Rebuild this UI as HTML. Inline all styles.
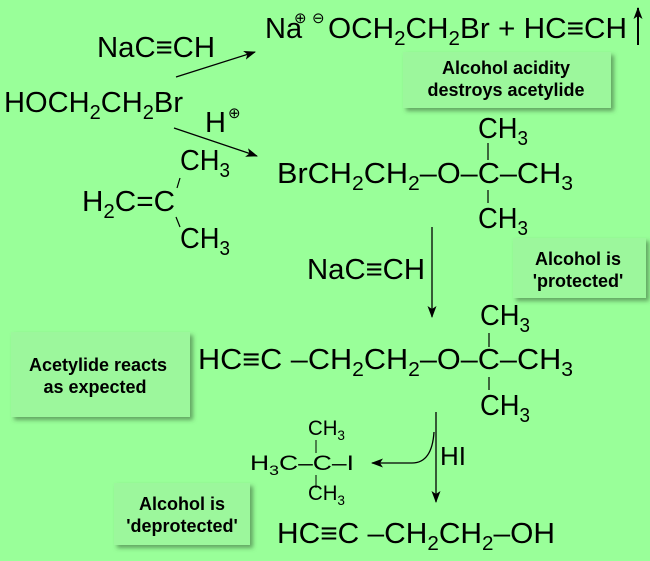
<!DOCTYPE html>
<html><head><meta charset="utf-8"><style>
html,body{margin:0;padding:0;background:#99ff99;}
svg{display:block;}
text{font-family:"Liberation Sans",sans-serif;fill:#000;}
.c{font-size:29px;}
.b{font-size:18px;font-weight:bold;text-anchor:middle;}
</style></head><body>
<svg width="650" height="561" viewBox="0 0 650 561" xmlns="http://www.w3.org/2000/svg">
<defs>
<filter id="sh" x="-10%" y="-10%" width="130%" height="130%"><feDropShadow dx="3" dy="3" stdDeviation="2" flood-color="#3a6a3a" flood-opacity="0.6"/></filter>
<marker id="ah" markerWidth="12" markerHeight="9" refX="11" refY="4.5" orient="auto" markerUnits="userSpaceOnUse"><path d="M0,0 L12,4.5 L0,9 L3,4.5 Z" fill="#000"/></marker>
</defs>
<rect width="650" height="561" fill="#99ff99"/>
<!-- boxes -->
<rect x="403" y="52" width="208" height="56" fill="#9cf79c" filter="url(#sh)"/>
<text class="b" x="506" y="74">Alcohol acidity</text>
<text class="b" x="506" y="96">destroys acetylide</text>
<rect x="513" y="238" width="133" height="60" fill="#9cf79c" filter="url(#sh)"/>
<text class="b" x="578" y="265">Alcohol is</text>
<text class="b" x="578" y="287">'protected'</text>
<rect x="11" y="332" width="179" height="85" fill="#9cf79c" filter="url(#sh)"/>
<text class="b" x="98" y="371">Acetylide reacts</text>
<text class="b" x="95" y="393">as expected</text>
<rect x="114" y="483" width="136" height="62" fill="#9cf79c" filter="url(#sh)"/>
<text class="b" x="182" y="510">Alcohol is</text>
<text class="b" x="182" y="532">'deprotected'</text>

<!-- top -->
<text class="c" x="97" y="57" textLength="118" lengthAdjust="spacingAndGlyphs">NaC≡CH</text>
<line x1="176" y1="77" x2="255" y2="52" stroke="#000" stroke-width="1.3" marker-end="url(#ah)"/>
<text class="c" x="265" y="38">Na</text>
<text x="294" y="23" font-size="15">⊕</text>
<text x="312" y="23" font-size="15">⊖</text>
<text class="c" x="328" y="38" textLength="299" lengthAdjust="spacingAndGlyphs">OCH<tspan font-size="20" dy="7">2</tspan><tspan dy="-7">CH</tspan><tspan font-size="20" dy="7">2</tspan><tspan dy="-7">Br + HC≡CH</tspan></text>
<line x1="638" y1="45" x2="638" y2="8" stroke="#000" stroke-width="2" marker-end="url(#ah)"/>

<text class="c" x="4" y="112" textLength="179" lengthAdjust="spacingAndGlyphs">HOCH<tspan font-size="20" dy="7">2</tspan><tspan dy="-7">CH</tspan><tspan font-size="20" dy="7">2</tspan><tspan dy="-7">Br</tspan></text>
<text class="c" x="205" y="132">H</text><text x="228" y="118" font-size="15">⊕</text>
<line x1="174" y1="128" x2="257" y2="156" stroke="#000" stroke-width="1.3" marker-end="url(#ah)"/>

<!-- isobutylene -->
<text class="c" x="180" y="170" textLength="50" lengthAdjust="spacingAndGlyphs">CH<tspan font-size="20" dy="7">3</tspan></text>
<text class="c" x="82" y="211" textLength="93" lengthAdjust="spacingAndGlyphs">H<tspan font-size="20" dy="7">2</tspan><tspan dy="-7">C=C</tspan></text>
<line x1="180" y1="178" x2="177" y2="188" stroke="#000" stroke-width="1.2"/>
<line x1="176" y1="217" x2="180" y2="227" stroke="#000" stroke-width="1.2"/>
<text class="c" x="180" y="248" textLength="50" lengthAdjust="spacingAndGlyphs">CH<tspan font-size="20" dy="7">3</tspan></text>

<!-- ether 1 -->
<text class="c" x="478" y="138" textLength="50" lengthAdjust="spacingAndGlyphs">CH<tspan font-size="20" dy="7">3</tspan></text>
<line x1="488" y1="143" x2="488" y2="160" stroke="#000" stroke-width="1.2"/>
<text class="c" x="277" y="183" textLength="296" lengthAdjust="spacingAndGlyphs">BrCH<tspan font-size="20" dy="7">2</tspan><tspan dy="-7">CH</tspan><tspan font-size="20" dy="7">2</tspan><tspan dy="-7">–O–C–CH</tspan><tspan font-size="20" dy="7">3</tspan></text>
<line x1="488" y1="190" x2="488" y2="203" stroke="#000" stroke-width="1.2"/>
<text class="c" x="478" y="228" textLength="50" lengthAdjust="spacingAndGlyphs">CH<tspan font-size="20" dy="7">3</tspan></text>

<line x1="432" y1="227" x2="432" y2="317" stroke="#000" stroke-width="1.3" marker-end="url(#ah)"/>
<text class="c" x="307" y="279" textLength="118" lengthAdjust="spacingAndGlyphs">NaC≡CH</text>

<!-- ether 2 -->
<text class="c" x="480" y="325" textLength="50" lengthAdjust="spacingAndGlyphs">CH<tspan font-size="20" dy="7">3</tspan></text>
<line x1="489" y1="333" x2="489" y2="347" stroke="#000" stroke-width="1.2"/>
<text class="c" x="198" y="369" textLength="375" lengthAdjust="spacingAndGlyphs">HC≡C –CH<tspan font-size="20" dy="7">2</tspan><tspan dy="-7">CH</tspan><tspan font-size="20" dy="7">2</tspan><tspan dy="-7">–O–C–CH</tspan><tspan font-size="20" dy="7">3</tspan></text>
<line x1="489" y1="377" x2="489" y2="390" stroke="#000" stroke-width="1.2"/>
<text class="c" x="480" y="415" textLength="50" lengthAdjust="spacingAndGlyphs">CH<tspan font-size="20" dy="7">3</tspan></text>

<!-- HI step -->
<line x1="436" y1="412" x2="436" y2="502" stroke="#000" stroke-width="1.3" marker-end="url(#ah)"/>
<text x="440" y="465" font-size="26">HI</text>
<path d="M434,432 Q432,463 412,463 L372,463" fill="none" stroke="#000" stroke-width="1.3" marker-end="url(#ah)"/>

<text x="250" y="470" font-size="21" textLength="104" lengthAdjust="spacingAndGlyphs">H<tspan font-size="14" dy="5">3</tspan><tspan dy="-5">C–C–I</tspan></text>
<text x="308" y="435" font-size="21" textLength="37" lengthAdjust="spacingAndGlyphs">CH<tspan font-size="14" dy="5">3</tspan></text>
<line x1="316" y1="440" x2="316" y2="453" stroke="#000" stroke-width="1"/>
<line x1="316" y1="475" x2="316" y2="488" stroke="#000" stroke-width="1"/>
<text x="308" y="500" font-size="21" textLength="37" lengthAdjust="spacingAndGlyphs">CH<tspan font-size="14" dy="5">3</tspan></text>

<text class="c" x="277" y="543" textLength="278" lengthAdjust="spacingAndGlyphs">HC≡C –CH<tspan font-size="20" dy="7">2</tspan><tspan dy="-7">CH</tspan><tspan font-size="20" dy="7">2</tspan><tspan dy="-7">–OH</tspan></text>
</svg>
</body></html>
